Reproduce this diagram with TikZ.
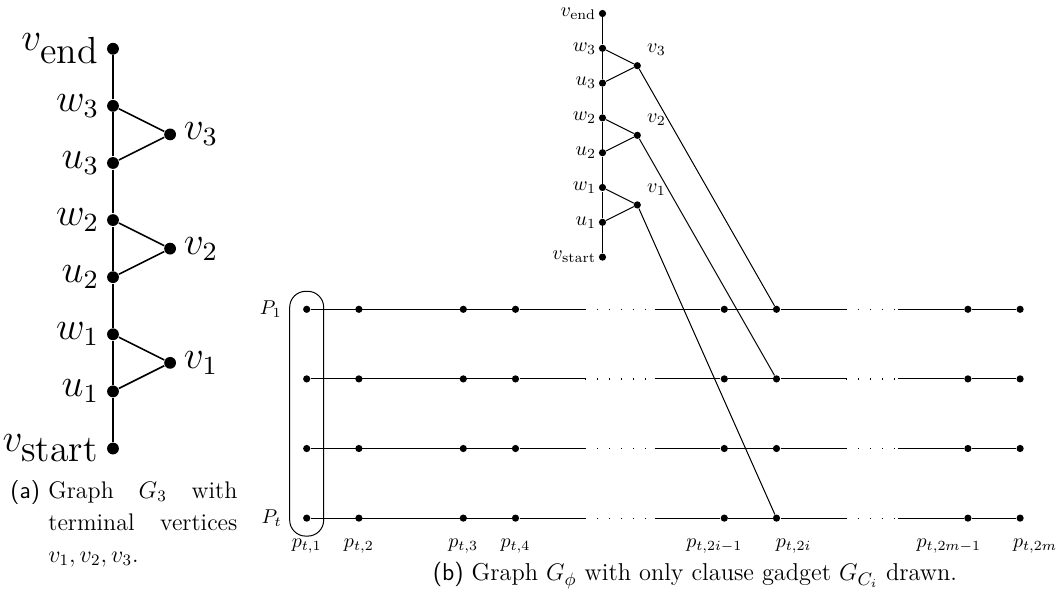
\documentclass[tikz,border=0pt]{standalone}
\usepackage{amsmath}
\usepackage{tikz}
\usetikzlibrary{positioning, fit}

\begin{document}
\begin{tikzpicture}[
        x=17.4pt, y=17.4pt,
        dot/.style={circle, fill=black, inner sep=0pt, minimum size=3.6pt},
        edge/.style={line width=0.5pt},
        gap/.style={line width=0.6pt, dash pattern=on 0.6pt off 5.4pt},
        lft/.style={label={[inner sep=1pt]left:#1}},
        captext/.style={inner sep=0pt, align=left}
    ]
    \useasboundingbox (-8.813,-8.440) rectangle (21.704,8.888);

    % (a) the graph G_3 on its own, drawn larger
    \begin{scope}[shift={(-5.566,-4.0)}, scale=1.641, transform shape,
            every label/.append style={font=\fontsize{11.5}{13}\selectfont, inner sep=2pt}]
        \node[dot, label=left:$v_{\mbox{start}}$] (a-vs) at (0,0) {};
        \foreach \i in {1,2,3} {
            \node[dot, label=left:$u_{\i}$] (a-u\i) at (0,2*\i-1) {};
            \node[dot, label=left:$w_{\i}$] (a-w\i) at (0,2*\i) {};
            \node[dot, label=right:$v_{\i}$] (a-v\i) at (1,2*\i-0.5) {};
        }
        \node[dot, label=left:$v_{\mbox{end}}$] (a-ve) at (0,7) {};
        \draw[line width=0.8pt] (a-vs) -- (a-u1) -- (a-w1) -- (a-u2) -- (a-w2) -- (a-u3) -- (a-w3) -- (a-ve);
        \foreach \i in {1,2,3}
            \draw[line width=0.8pt] (a-w\i) -- (a-v\i) -- (a-u\i);
    \end{scope}

    % (b) clause gadget above the paths
    \begin{scope}[shift={(8.5,1.5)}]
        \node[dot, lft=$v_{\mathrm{start}}$] (b-vs) at (0,0) {};
        \foreach \i in {1,2,3} {
            \node[dot, lft=$u_{\i}$] (b-u\i) at (0,2*\i-1) {};
            \node[dot, lft=$w_{\i}$] (b-w\i) at (0,2*\i) {};
            \node[dot, label=above right:$v_{\i}$] (b-v\i) at (1,2*\i-0.5) {};
        }
        \node[dot, lft=$v_{\mathrm{end}}$] (b-ve) at (0,7) {};
        \draw[edge] (b-vs) -- (b-u1) -- (b-w1) -- (b-u2) -- (b-w2) -- (b-u3) -- (b-w3) -- (b-ve);
        \foreach \i in {1,2,3}
            \draw[edge] (b-w\i) -- (b-v\i) -- (b-u\i);
    \end{scope}

    % paths P_1 ... P_t
    \foreach \r/\y in {1/0, 2/-2, 3/-4, 4/-6} {
        \foreach \j/\x in {1/0, 2/1.5, 3/4.5, 4/6, 5/12, 6/13.5, 7/19, 8/20.5}
            \node[dot] (p\r-\j) at (\x,\y) {};
        \coordinate (g\r-a) at (8,\y);
        \coordinate (g\r-b) at (10,\y);
        \coordinate (g\r-c) at (15.5,\y);
        \coordinate (g\r-d) at (17,\y);
        \draw[edge] (p\r-1) -- (p\r-4) -- (g\r-a);
        \draw[gap] (g\r-a) -- (g\r-b);
        \draw[edge] (g\r-b) -- (p\r-5) -- (p\r-6) -- (g\r-c);
        \draw[gap] (g\r-c) -- (g\r-d);
        \draw[edge] (g\r-d) -- (p\r-7) -- (p\r-8);
    }
    \node[left=7pt of p1-1] (P1) {$P_1$};
    \node[left=7pt of p4-1] (Pt) {$P_t$};
    \node[draw, edge, rounded corners=8pt, fit=(p1-1)(p4-1), inner xsep=6.5pt, inner ysep=7pt] (first) {};

    \foreach \j/\s/\lab in {1/0/1, 2/0/2, 3/0/3, 4/0/4, 5/-5/2i-1, 6/8.5/2i, 7/-9.5/2m-1, 8/7.5/2m}
        \node[below=5pt of p4-\j, xshift=\s pt] (q\j) {$p_{t,\lab}$};

    % edges of the gadget into the paths
    \draw[edge] (b-v3) -- (p1-6);
    \draw[edge] (b-v2) -- (p2-6);
    \draw[edge] (b-v1) -- (p4-6);

    % captions
    \node[captext, anchor=base west, font=\fontsize{12}{16}\selectfont\sffamily] (tag-a) at (-8.526,-5.423) {(a)};
    \node[captext, anchor=base west, text width=94.5pt, font=\fontsize{12}{16}\selectfont] (cap-a) at (-7.434,-5.423)
        {Graph\hfill $G_3$\hfill with\\ terminal\hfill vertices\\ $v_1, v_2, v_3$.};
    \node[captext, anchor=base, font=\fontsize{12.2}{14}\selectfont] (cap-b) at (11.158,-7.807)
        {\textsf{(b)} Graph $G_\phi$ with only clause gadget $G_{C_i}$ drawn.};
\end{tikzpicture}
\end{document}
